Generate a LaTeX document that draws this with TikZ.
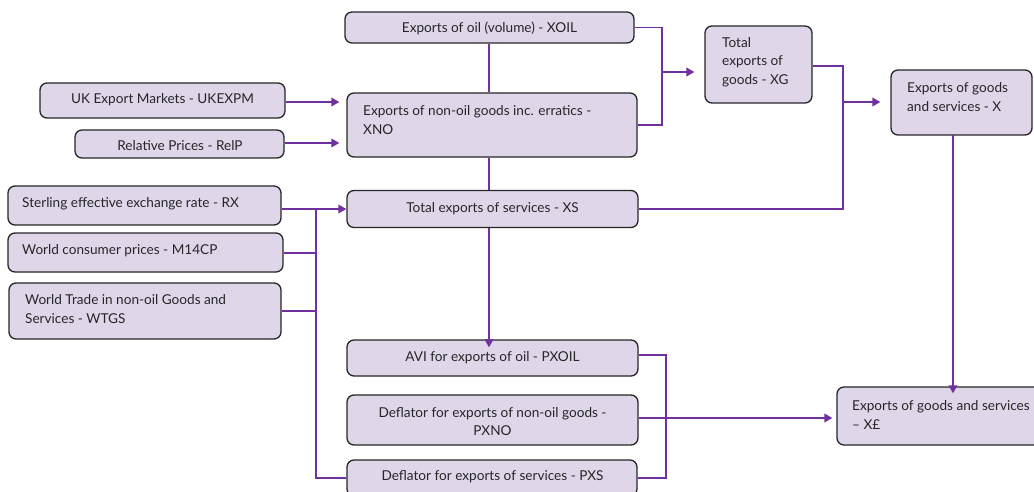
\documentclass[tikz,border=0pt]{standalone}
\usepackage{fontspec}
\setmainfont{Lato}
\usetikzlibrary{arrows.meta}
\definecolor{boxfill}{HTML}{E0D6EA}
\definecolor{boxline}{HTML}{262626}
\definecolor{linkcol}{HTML}{7030A0}
\begin{document}
\begin{tikzpicture}[x=1pt,y=-1pt,
  box/.style={draw=boxline, fill=boxfill, line width=1.3pt, rounded corners=7pt, inner sep=0pt},
  txt/.style={inner sep=0pt, font=\fontsize{13.6}{18.5}\selectfont, text=black!85},
  ctr/.style={txt, align=center, anchor=center},
  lft/.style={txt, align=left, anchor=west},
  link/.style={draw=linkcol, line width=1.8pt},
  arr/.style={link, -{Triangle[length=8pt,width=8.5pt]}},
]
\useasboundingbox (0,0) rectangle (1034,492);

% boxes
\node[box, minimum width=289, minimum height=31] (xoil)   at (489.5,27.5) {};
\node[box, minimum width=290, minimum height=64] (xno)    at (492,125) {};
\node[box, minimum width=291, minimum height=37] (xs)     at (492.5,209) {};
\node[box, minimum width=107, minimum height=77] (xg)     at (758.5,64.5) {};
\node[box, minimum width=141, minimum height=65] (x)      at (961.5,102.5) {};
\node[box, minimum width=245, minimum height=35] (ukexpm) at (162.5,100.5) {};
\node[box, minimum width=209, minimum height=28] (relp)   at (179.5,144) {};
\node[box, minimum width=273, minimum height=39] (rx)     at (144.5,205.5) {};
\node[box, minimum width=275, minimum height=39] (m14cp)  at (145.5,252.5) {};
\node[box, minimum width=272, minimum height=56] (wtgs)   at (145,311) {};
\node[box, minimum width=291, minimum height=36] (pxoil)  at (492.5,358) {};
\node[box, minimum width=291, minimum height=50] (pxno)   at (492.5,420) {};
\node[box, minimum width=290, minimum height=36] (pxs)    at (492,478) {};
\node[box, minimum width=210, minimum height=58] (xpound) at (942,416) {};

% labels
\node[ctr] (xoil-t)   at (489.5,28) {Exports of oil (volume) - XOIL};
\node[lft] (xno-t)    at (363,120) {Exports of non-oil goods inc. erratics -\\XNO};
\node[ctr] (xs-t)     at (492.5,209) {Total exports of services - XS};
\node[lft] (xg-t)     at (722,62) {Total\\exports of\\goods - XG};
\node[lft] (x-t)      at (907,97) {Exports of goods\\and services - X};
\node[ctr] (ukexpm-t) at (162.5,99.5) {UK Export Markets - UKEXPM};
\node[ctr] (relp-t)   at (180,146) {Relative Prices - RelP};
\node[lft] (rx-t)     at (22,203.5) {Sterling effective exchange rate - RX};
\node[lft] (m14cp-t)  at (22,250.5) {World consumer prices - M14CP};
\node[lft] (wtgs-t)   at (25,309) {World Trade in non-oil Goods and\\Services - WTGS};
\node[ctr] (pxoil-t)  at (492.5,357.5) {AVI for exports of oil - PXOIL};
\node[ctr] (pxno-t)   at (492.5,421.5) {Deflator for exports of non-oil goods -\\PXNO};
\node[ctr] (pxs-t)    at (492.5,476.5) {Deflator for exports of services - PXS};
\node[lft] (xpound-t) at (852,415) {Exports of goods and services\\– X£};

% junction points
\coordinate (gbus) at (662,72);
\coordinate (xbus) at (843,102);
\coordinate (pbus) at (316,209);
\coordinate (dbus) at (666,418);
\coordinate (vbus) at (489,0);

% oil and non-oil goods into total goods
\draw[link] (xoil.east) -| (gbus |- xno.east) -- (xno.east);
\draw[arr] (gbus) -- ([xshift=-10pt]gbus -| xg.west);
\draw[link] (vbus |- xoil.south) -- (vbus |- xno.north);
\draw[link] (vbus |- xno.south) -- (vbus |- xs.north);
\draw[arr] (vbus |- xs.south) -- ([yshift=-8pt]vbus |- pxoil.north);

% drivers of non-oil goods
\draw[arr] (ukexpm.east |- 0,102) -- ([xshift=-7pt]xno.west |- 0,102);
\draw[arr] (relp.east |- 0,143) -- ([xshift=-7pt]xno.west |- 0,143);

% price drivers
\draw[arr] (rx.east |- xs.west) -- (xs.west);
\draw[link] (pbus) |- (pxs.west);
\draw[link] (m14cp.east |- 0,253) -- (pbus |- 0,253);
\draw[link] (wtgs.east) -- (pbus |- wtgs.east);

% goods and services into total exports
\draw[link] (xg.east |- 0,66) -| (xbus |- xs.east) -- (xs.east);
\draw[arr] (xbus) -- ([xshift=-10pt]x.west |- xbus);
\draw[arr] (953,135) -- ([yshift=-7pt]953,0 |- xpound.north);

% deflators into nominal exports
\draw[link] (pxoil.east |- 0,355) -| (dbus |- pxs.east) -- (pxs.east);
\draw[arr] (pxno.east |- dbus) -- ([xshift=-4pt]xpound.west |- dbus);
\end{tikzpicture}
\end{document}
